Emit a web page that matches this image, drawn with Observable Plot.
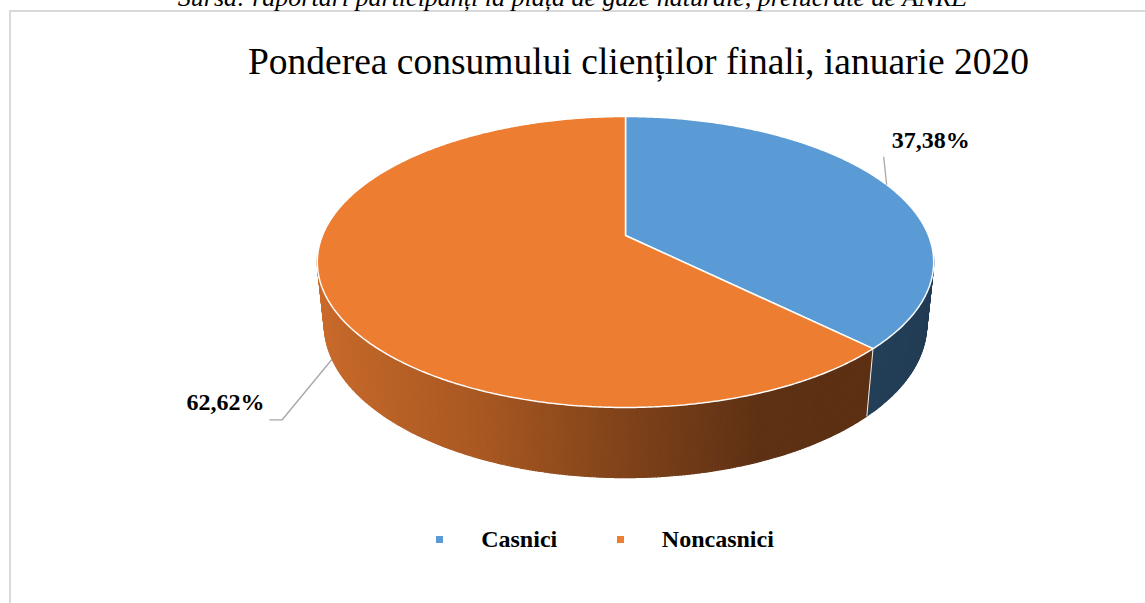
<!DOCTYPE html>
<html>
<head>
<meta charset="utf-8">
<script src="https://cdn.jsdelivr.net/npm/d3@7"></script>
<script src="https://cdn.jsdelivr.net/npm/@observablehq/plot@0.6"></script>
<style>
  html, body { margin: 0; padding: 0; background: #ffffff; }
  #wrap { position: relative; width: 1145px; height: 603px; overflow: hidden; font-family: "Liberation Serif", "Times New Roman", serif; color: #000; }
  #wrap svg.chart { position: absolute; left: 0; top: 0; }
  #frame { position: absolute; left: 9px; top: 10px; width: 1300px; height: 800px; border-left: 2px solid #d9d9d9; border-top: 2px solid #d9d9d9; background: #fff; }
  .txt { position: absolute; line-height: 1; white-space: nowrap; }
  #caption { left: 0; width: 1145px; text-align: center; top: -15.5px; font-size: 26px; font-style: italic; }
  #title { left: 0; width: 1277px; text-align: center; top: 42.6px; font-size: 37.5px; }
  .sw { position: absolute; width: 7px; height: 7px; }
  .leg { font-size: 24px; font-weight: bold; top: 527px; }
</style>
</head>
<body>
<div id="wrap">
  <div id="frame"></div>
</div>
<script>
// ---------- data ----------
const categories = ["Casnici", "Noncasnici"];
const values = [37.38, 62.62];
const labels = ["37,38%", "62,62%"];
const colors = ["#5b9bd5", "#ed7d31"];
const chartTitle = "Ponderea consumului clienților finali, ianuarie 2020";
const sourceNote = "Sursa: raportări participanți la piața de gaze naturale, prelucrate de ANRE";

// ---------- 3D view (layout) ----------
const W = 1145, H = 603;
const CX = 625, CY = 235, K = 1474;          // pie centre in px, px per projected unit
const sinT = 0.4642, cosT = Math.sqrt(1 - sinT * sinT);
const DIST = 4.864, THICK = 0.2338;

function proj(X, Y, Z) {
  const d = DIST - (Y * cosT + Z * sinT);
  return {u: X / d, v: (Y * sinT - Z * cosT) / d};
}
function rim(theta, Z) { return proj(Math.sin(theta), -Math.cos(theta), Z); }

const rows = categories.map((c, i) => ({category: c, value: values[i], label: labels[i], color: colors[i]}));
const arcs = d3.pie().sort(null).value(d => d.value).startAngle(0).endAngle(2 * Math.PI)(rows);

// wall shading by surface orientation
const wallShade = [
  d3.scaleLinear().domain([-1, 0.7, 1]).range(["#3d6d99", "#243f58", "#223c54"]).clamp(true),
  d3.scaleLinear().domain([-1, -0.4, 0.05, 0.37, 1]).range(["#cc6d2d", "#a95822", "#7a4019", "#5e3114", "#5b2f12"]).clamp(true)
];

const step = Math.PI / 360;
const strips = [];
arcs.forEach((a, i) => {
  const n = Math.max(1, Math.ceil((a.endAngle - a.startAngle) / step));
  for (let k = 0; k < n; k++) {
    const t0 = a.startAngle + (a.endAngle - a.startAngle) * k / n;
    const t1 = a.startAngle + (a.endAngle - a.startAngle) * (k + 1) / n;
    const tm = (t0 + t1) / 2;
    const Ym = -Math.cos(tm);
    if (Ym < 1 / (DIST * cosT) - 0.1) continue;
    strips.push({order: Ym, color: wallShade[i](Math.sin(tm)), pts: [rim(t0, 0), rim(t1, 0), rim(t1, -THICK), rim(t0, -THICK)]});
  }
});
strips.sort((a, b) => a.order - b.order);
const wallPts = [];
strips.forEach((s, j) => s.pts.forEach(p => wallPts.push({...p, strip: j, color: s.color})));

// top faces
const topPts = [];
arcs.forEach((a, i) => {
  topPts.push({...proj(0, 0, 0), slice: i, color: a.data.color});
  const n = Math.ceil((a.endAngle - a.startAngle) / step);
  for (let k = 0; k <= n; k++) {
    const t = a.startAngle + (a.endAngle - a.startAngle) * k / n;
    topPts.push({...rim(t, 0), slice: i, color: a.data.color});
  }
});

// visible wall edges between slices
const edgePts = [];
arcs.forEach((a, i) => {
  if (-Math.cos(a.startAngle) > 1 / (DIST * cosT)) {
    edgePts.push({...rim(a.startAngle, 0), e: i});
    edgePts.push({...rim(a.startAngle, -THICK), e: i});
  }
});

// data labels with leader lines (anchored at slice mid-angle)
const labelRim = [0, -THICK];
const leaderOffsets = [[[0, 0], [-3, -28]], [[0, 1], [-49.7, 61.3], [-62.4, 61.3]]];
const labelOffsets = [[5.2, -36.8 - 7.7], [-67.4, 52 - 7.7]];
const labelAnchors = ["start", "end"];
const leaderPts = [], labelPts = [];
arcs.forEach((a, i) => {
  const mid = (a.startAngle + a.endAngle) / 2;
  const p = rim(mid, labelRim[i]);
  leaderOffsets[i].forEach(([dx, dy]) => leaderPts.push({u: p.u + dx / K, v: p.v + dy / K, l: i}));
  labelPts.push({u: p.u + labelOffsets[i][0] / K, v: p.v + labelOffsets[i][1] / K, text: a.data.label, anchor: labelAnchors[i]});
});

const chart = Plot.plot({
  width: W, height: H,
  marginTop: 0, marginRight: 0, marginBottom: 0, marginLeft: 0,
  style: {background: "transparent", overflow: "visible"},
  x: {domain: [-CX / K, (W - CX) / K], axis: null},
  y: {domain: [(H - CY) / K, -CY / K], axis: null},
  marks: [
    Plot.line(wallPts, {x: "u", y: "v", z: "strip", fill: "color", stroke: "color", strokeWidth: 1.2, curve: "linear-closed"}),
    Plot.line(topPts, {x: "u", y: "v", z: "slice", fill: "color", stroke: "#ffffff", strokeWidth: 1.5, strokeLinejoin: "miter", curve: "linear-closed"}),
    Plot.line(edgePts, {x: "u", y: "v", z: "e", stroke: "#f2f2f2", strokeWidth: 1}),
    Plot.line(leaderPts, {x: "u", y: "v", z: "l", stroke: "#a6a6a6", strokeWidth: 1.3, strokeLinecap: "butt"}),
    Plot.text(labelPts.filter(d => d.anchor === "start"), {x: "u", y: "v", text: "text", textAnchor: "start", lineAnchor: "middle", fontFamily: "Liberation Serif", fontWeight: "bold", fontSize: 24, fill: "#000"}),
    Plot.text(labelPts.filter(d => d.anchor === "end"), {x: "u", y: "v", text: "text", textAnchor: "end", lineAnchor: "middle", fontFamily: "Liberation Serif", fontWeight: "bold", fontSize: 24, fill: "#000"})
  ]
});
chart.classList.add("chart");
const wrap = document.getElementById("wrap");
wrap.appendChild(chart);

function addText(id, cls, text, style) {
  const d = document.createElement("div");
  if (id) d.id = id;
  d.className = cls;
  d.textContent = text;
  Object.assign(d.style, style || {});
  wrap.appendChild(d);
  return d;
}
addText("caption", "txt", sourceNote);
addText("title", "txt", chartTitle);

// legend
const legendSwatchX = [436, 617.3];
const legendTextX = [481.2, 661.8];
categories.forEach((c, i) => {
  const s = document.createElement("div");
  s.className = "sw";
  s.style.left = legendSwatchX[i] + "px";
  s.style.top = "536px";
  s.style.background = colors[i];
  wrap.appendChild(s);
  addText(null, "txt leg", c, {left: legendTextX[i] + "px"});
});
</script>
</body>
</html>
